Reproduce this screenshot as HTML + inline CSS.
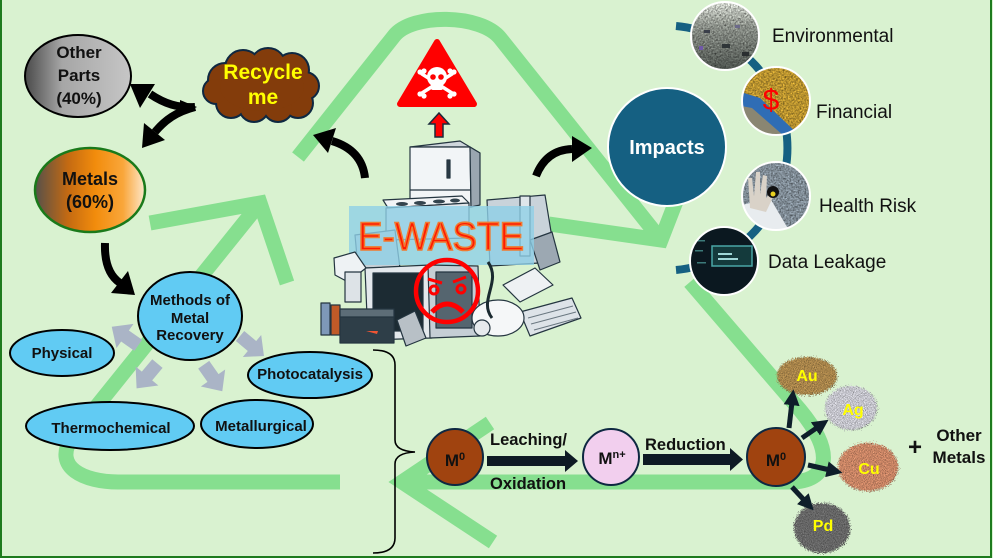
<!DOCTYPE html>
<html><head><meta charset="utf-8"><style>
html,body{margin:0;padding:0;background:#d9f2d0;}
svg{display:block;font-family:"Liberation Sans",Arial,sans-serif;}
</style></head><body>
<svg width="993" height="558" viewBox="0 0 993 558" xmlns="http://www.w3.org/2000/svg">
<defs>
 <linearGradient id="gOther" x1="0" x2="1" y1="0" y2="0">
  <stop offset="0" stop-color="#4a4a4a"/><stop offset="0.35" stop-color="#a6a6a6"/><stop offset="1" stop-color="#c6c6c6"/>
 </linearGradient>
 <linearGradient id="gMetal" x1="0" x2="1" y1="0" y2="0">
  <stop offset="0" stop-color="#56504a"/><stop offset="0.3" stop-color="#c46a12"/><stop offset="0.55" stop-color="#f28c0c"/><stop offset="0.8" stop-color="#f9a63a"/><stop offset="1" stop-color="#fde8cc"/>
 </linearGradient>
 <linearGradient id="gEnv" x1="0" x2="0" y1="0" y2="1">
  <stop offset="0" stop-color="#d6dad2"/><stop offset="0.35" stop-color="#8c918a"/><stop offset="1" stop-color="#4c524d"/>
 </linearGradient>
 <filter id="grain" x="-20%" y="-20%" width="140%" height="140%" color-interpolation-filters="sRGB">
  <feTurbulence type="fractalNoise" baseFrequency="1.1" numOctaves="2" seed="5" result="n"/>
  <feColorMatrix in="n" type="matrix" values="0.33 0.33 0.33 0 0  0.33 0.33 0.33 0 0  0.33 0.33 0.33 0 0  0 0 0 0 1" result="ng"/>
  <feDisplacementMap in="SourceGraphic" in2="n" scale="8" xChannelSelector="R" yChannelSelector="G" result="d"/>
  <feComposite in="d" in2="ng" operator="arithmetic" k1="2" k2="0" k3="0" k4="0"/>
 </filter>
 <filter id="grain2" x="0" y="0" width="100%" height="100%" color-interpolation-filters="sRGB">
  <feTurbulence type="fractalNoise" baseFrequency="0.6" numOctaves="2" seed="9" result="n"/>
  <feColorMatrix in="n" type="matrix" values="0.33 0.33 0.33 0 0  0.33 0.33 0.33 0 0  0.33 0.33 0.33 0 0  0 0 0 0 1" result="ng"/>
  <feComposite in="SourceGraphic" in2="ng" operator="arithmetic" k1="2" k2="0" k3="0" k4="0"/>
 </filter>
 <clipPath id="cEnv"><circle cx="725" cy="36" r="34"/></clipPath>
 <clipPath id="cFin"><circle cx="776" cy="101" r="34"/></clipPath>
 <clipPath id="cHea"><circle cx="776" cy="196" r="34"/></clipPath>
 <clipPath id="cDat"><circle cx="724" cy="261" r="34"/></clipPath>
 <marker id="ah" viewBox="0 0 10 10" refX="2" refY="5" markerWidth="3.2" markerHeight="3.2" orient="auto">
  <path d="M0,0 L10,5 L0,10 z" fill="#0e1e2a"/>
 </marker>
</defs>

<rect width="993" height="558" fill="#d9f2d0"/>

<!-- green recycle arrows -->
<g fill="none" stroke="#86df8f" stroke-width="15">
 <path d="M298,157 L394,36 C412,13 481,14 500,38 L661,240" stroke-linejoin="round"/>
 <path d="M549,224 L661,240 L692,160" stroke-linejoin="miter" stroke-miterlimit="10"/>
 <path d="M690,282 L800,410 C835,452 830,482 790,482 L402,482" stroke-linejoin="round"/>
 <path d="M490,423 L402,482 L493,542" stroke-linejoin="miter" stroke-miterlimit="10"/>
 <path d="M340,482 L118,482 C85,482 52,468 72,437 L260,203" stroke-linejoin="round"/>
 <path d="M150,223 L260,203 L287,283" stroke-linejoin="miter" stroke-miterlimit="10"/>
</g>

<!-- border -->
<rect x="1" y="-5" width="990" height="562" fill="none" stroke="#1e7b1e" stroke-width="2"/>

<!-- Other parts -->
<ellipse cx="78" cy="76" rx="53" ry="41" fill="url(#gOther)" stroke="#000" stroke-width="2"/>
<g font-weight="bold" font-size="17" text-anchor="middle" fill="#111">
 <text x="79" y="58">Other</text>
 <text x="79" y="81">Parts</text>
 <text x="79" y="104">(40%)</text>
</g>

<!-- Metals -->
<ellipse cx="90" cy="190" rx="55" ry="42" fill="url(#gMetal)" stroke="#1a7a1a" stroke-width="2.5"/>
<g font-weight="bold" font-size="18" text-anchor="middle" fill="#111">
 <text x="90" y="185">Metals</text>
 <text x="90" y="208">(60%)</text>
</g>

<!-- Recycle cloud -->
<g fill="#0e2841" stroke="#0e2841" stroke-width="4">
 <circle cx="225" cy="80" r="16"/><circle cx="243" cy="68" r="17"/><circle cx="268" cy="66" r="17"/><circle cx="292" cy="70" r="16"/><circle cx="305" cy="86" r="13"/><circle cx="298" cy="103" r="14"/><circle cx="278" cy="107" r="14"/><circle cx="254" cy="107" r="14"/><circle cx="231" cy="103" r="14"/><circle cx="216" cy="91" r="12"/><ellipse cx="262" cy="87" rx="42" ry="24"/>
</g>
<g fill="#833c0b">
 <circle cx="225" cy="80" r="16"/><circle cx="243" cy="68" r="17"/><circle cx="268" cy="66" r="17"/><circle cx="292" cy="70" r="16"/><circle cx="305" cy="86" r="13"/><circle cx="298" cy="103" r="14"/><circle cx="278" cy="107" r="14"/><circle cx="254" cy="107" r="14"/><circle cx="231" cy="103" r="14"/><circle cx="216" cy="91" r="12"/><ellipse cx="262" cy="87" rx="42" ry="24"/>
</g>
<g font-weight="bold" font-size="21" text-anchor="middle" fill="#ffff00">
 <text x="263" y="79">Recycle</text>
 <text x="263" y="104">me</text>
</g>

<!-- double arrow -->
<g fill="#000">
 <path d="M195,107 C178,108 165,104 150,94" stroke="#000" stroke-width="8" fill="none"/>
 <polygon points="130,84 155,84 140,108"/>
 <path d="M195,107 C176,112 165,120 155,132" stroke="#000" stroke-width="8" fill="none"/>
 <polygon points="142,148 165,140 144,123"/>
 <polygon points="180,100 197,107 180,115"/>
</g>

<!-- arrow metals -> methods -->
<path d="M105,243 Q104,272 120,283" stroke="#000" stroke-width="8" fill="none"/>
<polygon points="135,295 111,293 128,271" fill="#000"/>

<!-- E-waste arrows -->
<path d="M365,178 Q362,150 332,141" stroke="#000" stroke-width="8" fill="none"/>
<polygon points="313,135 336,128 328,153" fill="#000"/>
<path d="M536,176 Q546,150 572,149" stroke="#000" stroke-width="8" fill="none"/>
<polygon points="592,148 572,136 572,162" fill="#000"/>

<!-- warning -->
<polygon points="437,42 474,104 400,104" fill="#ff0000" stroke="#ff0000" stroke-width="6" stroke-linejoin="round"/>
<g stroke="#fff" stroke-width="3.5" stroke-linecap="round">
 <line x1="422" y1="74" x2="452" y2="93"/><line x1="452" y1="74" x2="422" y2="93"/>
</g>
<g fill="#fff">
 <circle cx="420" cy="72" r="2.6"/><circle cx="424" cy="71" r="2.6"/><circle cx="454" cy="72" r="2.6"/><circle cx="450" cy="71" r="2.6"/>
 <circle cx="420" cy="94" r="2.6"/><circle cx="424" cy="96" r="2.6"/><circle cx="454" cy="94" r="2.6"/><circle cx="450" cy="96" r="2.6"/>
 <circle cx="437" cy="77" r="10"/><rect x="431" y="80" width="12" height="10" rx="2"/>
</g>
<circle cx="433" cy="77" r="2.8" fill="#ff0000"/><circle cx="441" cy="77" r="2.8" fill="#ff0000"/>
<polygon points="439,113 449,124 443,124 443,137 435,137 435,124 429,124" fill="#ff0000" stroke="#1a2a3a" stroke-width="1.5"/>

<!-- E-waste pile -->
<g stroke="#243540" stroke-width="1.2" stroke-linejoin="round">
 <polygon points="487,200 545,195 556,262 490,266" fill="#c9d3da"/>
 <rect x="520" y="196" width="10" height="60" fill="#dfe6ea"/>
 <polygon points="530,240 552,232 560,262 540,270" fill="#9ca8b2"/>
 <polygon points="410,147 460,141 480,153 470,147" fill="#cfd6dc"/>
 <polygon points="410,147 470,147 471,207 410,208" fill="#f2f5f7"/>
 <polygon points="470,147 480,153 480,205 471,207" fill="#9aa6b0"/>
 <line x1="410" y1="190" x2="471" y2="190"/>
 <rect x="447" y="160" width="3" height="18" fill="#2a3a44"/>
 <polygon points="383,200 462,196 469,203 388,208" fill="#f2f4f6"/>
 <polygon points="386,208 469,203 469,238 386,240" fill="#e0e5e9"/>
 <polygon points="355,235 395,230 400,268 358,268" fill="#c5cfd6"/>
</g>
<g fill="#34444e">
 <ellipse cx="402" cy="204" rx="6" ry="2"/><ellipse cx="420" cy="203" rx="6" ry="2"/><ellipse cx="439" cy="201.5" rx="6" ry="2"/><ellipse cx="455" cy="200.5" rx="5" ry="2"/>
</g>
<rect x="349" y="206" width="185" height="59" fill="#8fcfe6" opacity="0.8"/>
<text x="358" y="250" font-size="40" textLength="166" lengthAdjust="spacingAndGlyphs" fill="#ff1a00" stroke="#f07a30" stroke-width="1.6">E-WASTE</text>

<g stroke="#243540" stroke-width="1.2" stroke-linejoin="round">
 <polygon points="365,268 430,265 432,338 368,340" fill="#e3e8ec"/>
 <rect x="373" y="273" width="50" height="58" fill="#1c2b33"/>
 <polygon points="428,265 478,266 480,336 430,338" fill="#c5ced5"/>
 <rect x="436" y="272" width="36" height="56" fill="#55656f"/>
 <polygon points="334,258 355,252 366,268 348,282 335,275" fill="#eef2f4"/>
 <rect x="345" y="272" width="16" height="30" fill="#dde3e7"/>
 <rect x="321" y="303" width="9" height="32" fill="#7e98b8"/>
 <rect x="331" y="305" width="9" height="30" fill="#c05a28"/>
 <rect x="340" y="311" width="54" height="32" fill="#2e3e48"/>
 <rect x="340" y="309" width="54" height="8" fill="#5d6d77"/>
 <polygon points="397,320 415,311 426,338 406,346" fill="#b8c0c6"/>
 <polygon points="503,285 535,268 553,285 520,302" fill="#eef1f3"/>
 <polygon points="520,312 572,298 581,318 530,336" fill="#dde3e8"/>
 <ellipse cx="498" cy="318" rx="26" ry="18" fill="#f5f7f8"/>
 <circle cx="482" cy="328" r="8" fill="#e6eaed"/>
</g>
<path d="M488,262 C502,282 478,300 492,318" stroke="#1a2a30" stroke-width="3" fill="none"/>
<g stroke="#6a7780" stroke-width="1">
 <line x1="528" y1="318" x2="573" y2="306"/><line x1="531" y1="324" x2="576" y2="312"/><line x1="534" y1="330" x2="578" y2="318"/>
</g>
<path d="M366,331 L378,331 L377,334 Z" fill="#e53"/>

<!-- sad face -->
<g stroke="#ff0000" fill="none">
 <circle cx="447" cy="291" r="31" stroke-width="4.5"/>
 <circle cx="434" cy="290" r="4" stroke-width="3"/>
 <circle cx="461" cy="289" r="4" stroke-width="3"/>
 <path d="M428,279 L442,283 M453,282 L466,277" stroke-width="3"/>
 <path d="M432,312 Q447,296 463,312" stroke-width="5"/>
</g>

<!-- arc -->
<path d="M676,26 A122.5,122.5 0 0 1 676,270" fill="none" stroke="#156082" stroke-width="8"/>

<!-- Impacts -->
<circle cx="667" cy="147" r="59" fill="#156082" stroke="#fff" stroke-width="2"/>
<text x="667" y="154" text-anchor="middle" font-size="20" font-weight="bold" fill="#fff">Impacts</text>

<!-- Environmental pic -->
<g clip-path="url(#cEnv)">
 <rect x="690" y="1" width="70" height="70" fill="url(#gEnv)" filter="url(#grain2)"/>
 <rect x="704" y="30" width="6" height="3" fill="#3a3f4a"/><rect x="722" y="44" width="8" height="4" fill="#2f3538"/><rect x="735" y="25" width="5" height="3" fill="#6c6a8a"/>
 <rect x="699" y="46" width="4" height="4" fill="#7058a8"/><rect x="742" y="52" width="7" height="4" fill="#2a2e30"/>
</g>
<circle cx="725" cy="36" r="34" fill="none" stroke="#fff" stroke-width="2"/>

<!-- Financial pic -->
<g clip-path="url(#cFin)">
 <rect x="741" y="66" width="70" height="70" fill="#b8922e" filter="url(#grain2)"/>
 <polygon points="741,92 760,98 800,136 741,136" fill="#2f6db5"/>
 <polygon points="741,106 752,108 784,136 741,136" fill="#8a8672"/>
</g>
<circle cx="776" cy="101" r="34" fill="none" stroke="#fff" stroke-width="2"/>
<text x="771" y="110" text-anchor="middle" font-size="30" fill="#ff0000">$</text>

<!-- Health pic -->
<g clip-path="url(#cHea)">
 <rect x="741" y="161" width="70" height="70" fill="#7f8b95" filter="url(#grain2)"/>
 <polygon points="742,205 770,198 790,232 742,232" fill="#e8ecef"/>
 <path d="M750,208 L748,178 L752,178 L754,196 L756,172 L760,172 L760,194 L763,175 L767,176 L766,198 L772,190 L775,193 L766,212 Z" fill="#d9d2c8"/>
 <circle cx="773" cy="192" r="6" fill="#111"/><circle cx="773" cy="194" r="2.5" fill="#e8d020"/>
</g>
<circle cx="776" cy="196" r="34" fill="none" stroke="#fff" stroke-width="2"/>

<!-- Data pic -->
<g clip-path="url(#cDat)">
 <rect x="689" y="226" width="70" height="70" fill="#0b1820"/>
 <rect x="712" y="246" width="40" height="20" fill="#143a3c" stroke="#4aa6a6" stroke-width="1.5"/>
 <rect x="718" y="253" width="14" height="2" fill="#9fd8d8"/><rect x="718" y="258" width="20" height="2" fill="#9fd8d8"/>
 <rect x="695" y="240" width="10" height="1.5" fill="#3c7a7a"/><rect x="695" y="250" width="8" height="1.5" fill="#3c7a7a"/><rect x="697" y="262" width="9" height="1.5" fill="#3c7a7a"/>
</g>
<circle cx="724" cy="261" r="34" fill="none" stroke="#fff" stroke-width="2"/>

<g font-size="19" fill="#111">
 <text x="772" y="42">Environmental</text>
 <text x="816" y="118">Financial</text>
 <text x="819" y="212">Health Risk</text>
 <text x="768" y="268">Data Leakage</text>
</g>

<!-- Methods -->
<g fill="#aab4c6">
 <polygon points="-12,-5 0,-5 0,-11 12,0 0,11 0,5 -12,5" transform="translate(125,336) rotate(215) scale(1.35)"/>
 <polygon points="-12,-5 0,-5 0,-11 12,0 0,11 0,5 -12,5" transform="translate(147,376) rotate(130) scale(1.35)"/>
 <polygon points="-12,-5 0,-5 0,-11 12,0 0,11 0,5 -12,5" transform="translate(213,378) rotate(55) scale(1.35)"/>
 <polygon points="-12,-5 0,-5 0,-11 12,0 0,11 0,5 -12,5" transform="translate(252,346) rotate(40) scale(1.3)"/>
</g>
<g fill="#61cbf3" stroke="#000" stroke-width="2">
 <ellipse cx="190" cy="316" rx="52" ry="44"/>
 <ellipse cx="62" cy="353" rx="52" ry="23"/>
 <ellipse cx="110" cy="426" rx="84" ry="24"/>
 <ellipse cx="257" cy="424" rx="56" ry="24"/>
 <ellipse cx="310" cy="375" rx="62" ry="23"/>
</g>
<g font-weight="bold" font-size="15" text-anchor="middle" fill="#111">
 <text x="190" y="305">Methods of</text>
 <text x="190" y="323">Metal</text>
 <text x="190" y="340">Recovery</text>
 <text x="62" y="358">Physical</text>
 <text x="310" y="379">Photocatalysis</text>
 <text x="111" y="433">Thermochemical</text>
 <text x="261" y="431">Metallurgical</text>
</g>

<!-- brace -->
<path d="M373,350 Q395,350 395,365 L395,440 Q395,451 415,452 Q395,453 395,464 L395,538 Q395,553 373,553" fill="none" stroke="#000" stroke-width="1.6"/>

<!-- process -->
<rect x="487" y="456" width="79" height="10" fill="#0e1a24"/>
<polygon points="565,450 578,461 565,472" fill="#0e1a24"/>
<rect x="643" y="454" width="88" height="11" fill="#0e1a24"/>
<polygon points="730,448 743,459.5 730,471" fill="#0e1a24"/>
<g stroke="#0e2841" stroke-width="2">
 <circle cx="455" cy="457" r="28" fill="#a0430f"/>
 <circle cx="611" cy="457" r="28" fill="#f2cfee"/>
</g>
<g font-weight="bold" fill="#111">
 <text x="490" y="445" font-size="16.5">Leaching/</text>
 <text x="490" y="489" font-size="16.5">Oxidation</text>
 <text x="645" y="450" font-size="16.5">Reduction</text>
 <text x="455" y="466" font-size="17" text-anchor="middle">M<tspan font-size="11" dy="-6">0</tspan></text>
 <text x="612" y="464" font-size="17" text-anchor="middle">M<tspan font-size="11" dy="-6">n+</tspan></text>
</g>

<!-- metal piles -->
<g filter="url(#grain)">
 <ellipse cx="807" cy="376" rx="30" ry="19" fill="#a8844a"/>
 <ellipse cx="851" cy="408" rx="26" ry="22" fill="#c4c4cc"/>
 <ellipse cx="868" cy="467" rx="30" ry="24" fill="#c88464"/>
 <ellipse cx="822" cy="528" rx="28" ry="25" fill="#666"/>
</g>

<!-- metal arrows -->
<g stroke="#0e1e2a" stroke-width="5" marker-end="url(#ah)">
 <line x1="789" y1="428" x2="792" y2="402"/>
 <line x1="802" y1="438" x2="818" y2="427"/>
 <line x1="808" y1="465" x2="830" y2="470"/>
 <line x1="792" y1="487" x2="805" y2="501"/>
</g>
<circle cx="776" cy="457" r="29" fill="#a0430f" stroke="#0e2841" stroke-width="2"/>
<text x="776" y="466" font-size="17" font-weight="bold" text-anchor="middle" fill="#111">M<tspan font-size="11" dy="-6">0</tspan></text>

<g font-weight="bold" font-size="16" text-anchor="middle" fill="#ffff00">
 <text x="807" y="381">Au</text>
 <text x="853" y="415">Ag</text>
 <text x="869" y="474">Cu</text>
 <text x="823" y="531">Pd</text>
</g>
<g font-weight="bold" fill="#111" text-anchor="middle">
 <text x="915" y="455" font-size="24">+</text>
 <text x="959" y="441" font-size="17">Other</text>
 <text x="959" y="463" font-size="17">Metals</text>
</g>
</svg>
</body></html>
